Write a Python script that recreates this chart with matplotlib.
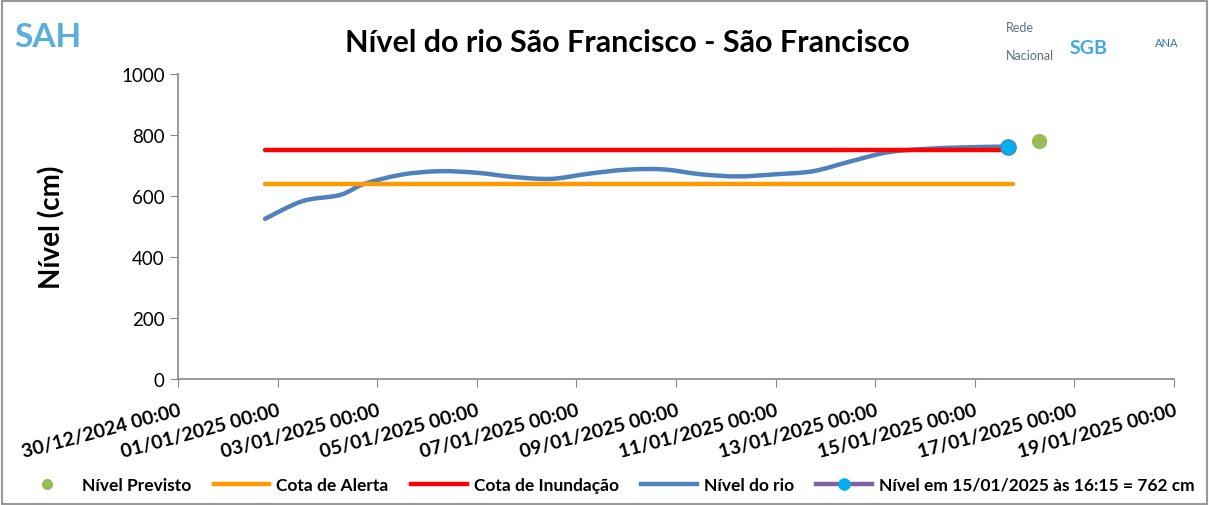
import numpy as np
import pandas as pd
import matplotlib
matplotlib.use("Agg")
import matplotlib.pyplot as plt
import matplotlib.dates as mdates
from matplotlib.lines import Line2D
from matplotlib.patches import Rectangle, PathPatch
from matplotlib.path import Path

plt.rcParams['font.family'] = ['Lato', 'DejaVu Sans']

# river level readings (cm)
nivel_datas = ["2024-12-31 18:00", "2025-01-01 12:00", "2025-01-02 06:00", "2025-01-02 18:00",
               "2025-01-03 12:00", "2025-01-04 06:00", "2025-01-05 00:00", "2025-01-05 18:00",
               "2025-01-06 12:00", "2025-01-07 06:00", "2025-01-08 00:00", "2025-01-08 18:00",
               "2025-01-09 12:00", "2025-01-10 06:00", "2025-01-11 00:00", "2025-01-11 18:00",
               "2025-01-12 12:00", "2025-01-13 06:00", "2025-01-14 00:00", "2025-01-14 18:00",
               "2025-01-15 16:15"]
nivel_valores = [525, 583, 603, 640, 670, 681, 676, 662, 656, 673, 686, 687,
                 671, 664, 671, 681, 713, 743, 754, 759, 762]

cota_alerta = 640
cota_inundacao = 750
linha_inicio = "2024-12-31 18:00"
alerta_fim = "2025-01-15 18:30"
inundacao_fim = "2025-01-15 16:15"

previsto_data = "2025-01-16 07:00"
previsto_valor = 780

ultima_data = "2025-01-15 16:15"
ultimo_valor = 762

x_inicio = "2024-12-30 00:00"
x_fim = "2025-01-19 00:00"


def smooth_path(xs, ys, k=1 / 6):
    """Excel-style smoothed line: Catmull-Rom segments drawn as cubic Beziers"""
    verts = [(xs[0], ys[0])]
    codes = [Path.MOVETO]
    n = len(xs)
    for i in range(n - 1):
        x0, y0 = (xs[i - 1], ys[i - 1]) if i > 0 else (xs[i], ys[i])
        x1, y1 = xs[i], ys[i]
        x2, y2 = xs[i + 1], ys[i + 1]
        x3, y3 = (xs[i + 2], ys[i + 2]) if i + 2 < n else (x2, y2)
        c1 = (x1 + (x2 - x0) * k, y1 + (y2 - y0) * k)
        c2 = (x2 - (x3 - x1) * k, y2 - (y3 - y1) * k)
        verts += [c1, c2, (x2, y2)]
        codes += [Path.CURVE4] * 3
    return Path(verts, codes)


t = mdates.date2num(pd.to_datetime(nivel_datas))

fig = plt.figure(figsize=(12.09, 5.06), dpi=100)
ax = fig.add_axes([0.1472, 0.249, 0.8238, 0.603])

ax.plot(pd.to_datetime([linha_inicio, alerta_fim]), [cota_alerta] * 2,
        color='#FF9900', lw=3.2, solid_capstyle='round')
ax.plot(pd.to_datetime([linha_inicio, inundacao_fim]), [cota_inundacao] * 2,
        color='#FF0000', lw=3.2, solid_capstyle='round')
ax.add_patch(PathPatch(smooth_path(list(t), nivel_valores), fill=False,
                       edgecolor='#4F81BD', lw=3.2, capstyle='round', joinstyle='round'))
ax.plot(pd.to_datetime([ultima_data]), [ultimo_valor], 'o', color='#00B0F0',
        markeredgecolor='#4F81BD', markersize=11, zorder=5)
ax.plot(pd.to_datetime([previsto_data]), [previsto_valor], 'o', color='#9BBB59',
        markersize=10)

ax.set_xlim(pd.Timestamp(x_inicio), pd.Timestamp(x_fim))
ax.set_ylim(0, 1000)
ax.set_yticks(range(0, 1001, 200))
ticks = pd.date_range(x_inicio, x_fim, freq='2D')
ax.set_xticks(ticks)
ax.set_xticklabels([d.strftime('%d/%m/%Y %H:%M') for d in ticks], rotation=15,
                   ha='right', rotation_mode='anchor', fontweight='bold', fontsize=14)
ax.tick_params(axis='y', labelsize=13.5, colors='#888888', labelcolor='black', length=6)
ax.tick_params(axis='x', colors='#888888', labelcolor='black', length=6, pad=10)
for s in ['top', 'right']:
    ax.spines[s].set_visible(False)
for s in ['left', 'bottom']:
    ax.spines[s].set_color('#888888')
    ax.spines[s].set_linewidth(1.2)

ax.set_ylabel('Nível (cm)', fontsize=20, fontweight='bold', labelpad=40)

fig.text(0.519, 0.915, 'Nível do rio São Francisco - São Francisco', ha='center', va='center',
         fontsize=22, fontweight='bold')

# approximate logos
fig.text(0.012, 0.925, 'SAH', color='#5AAEDB', fontsize=24, fontweight='bold',
         va='center', ha='left')
fig.text(0.832, 0.945, 'Rede', color='#5A6E80', fontsize=9, va='center')
fig.text(0.832, 0.89, 'Nacional', color='#5A6E80', fontsize=9, va='center')
fig.text(0.885, 0.905, 'SGB', color='#3FA9DF', fontsize=14, fontweight='bold', va='center')
fig.text(0.955, 0.915, 'ANA', color='#3070B0', fontsize=8, va='center')

handles = [
    Line2D([], [], ls='none', marker='o', color='#9BBB59', markersize=7),
    Line2D([], [], color='#FF9900', lw=3.2),
    Line2D([], [], color='#FF0000', lw=3.2),
    Line2D([], [], color='#4F81BD', lw=3.2),
    Line2D([], [], color='#8064A2', lw=3.2, marker='o', markerfacecolor='#00B0F0',
           markeredgecolor='#00B0F0', markersize=8),
]
labels = ['Nível Previsto', 'Cota de Alerta', 'Cota de Inundação', 'Nível do rio',
          'Nível em 15/01/2025 às 16:15 = 762 cm']
fig.legend(handles, labels, loc='center', bbox_to_anchor=(0.502, 0.04), ncol=5,
           frameon=False, prop={'weight': 'bold', 'size': 12.5}, handlelength=3.2,
           columnspacing=1.3, handletextpad=0.4)

fig.patches.append(Rectangle((0.002, 0.002), 0.996, 0.994, transform=fig.transFigure,
                             fill=False, edgecolor='#999999', lw=1.5))

fig.savefig('out.png', dpi=100)
